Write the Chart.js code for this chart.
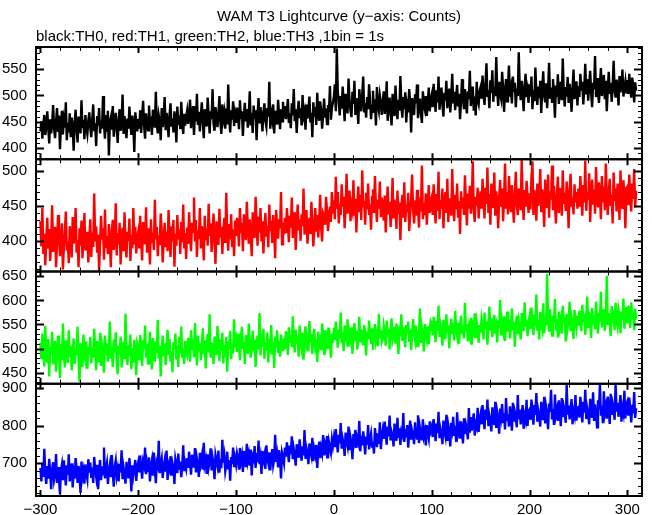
<!DOCTYPE html>
<html>
<head>
<meta charset="utf-8">
<script src="https://cdn.jsdelivr.net/npm/chart.js@4/dist/chart.umd.min.js"></script>
<style>
  body { margin: 0; background: #fff; }
  canvas { display: block; }
</style>
</head>
<body>
<canvas id="lc" width="652" height="515"></canvas>
<script>
// first bin time (s), 1 bin = 1 s
var tStart = -300;

// TH0 counts (black)
var th0 = [
432,451,418,447,463,425,439,470,441,409,455,428,446,482,437,419,450,476,433,462,398,444,471,426,453,439,487,415,448,430,466,421,458,442,395,449,473,436,411,460,445,428,491,438,454,417,463,440,427,452,
468,439,421,455,483,432,447,404,461,443,476,428,452,437,499,445,418,463,431,471,386,449,458,435,480,422,446,467,439,410,455,474,433,448,502,427,461,440,419,456,437,479,445,425,462,441,393,468,450,432,
455,437,472,429,461,490,443,418,466,452,434,481,447,460,425,473,455,439,507,446,428,462,451,415,476,440,458,497,434,467,449,421,463,485,441,456,430,470,453,411,479,444,462,436,488,450,427,465,443,459,
471,446,463,492,438,457,480,425,466,451,503,444,469,432,460,487,452,419,474,458,441,496,463,428,470,455,512,447,433,478,461,440,465,499,450,427,483,456,468,437,475,445,521,459,430,472,454,489,442,463,
448,477,462,436,491,455,470,423,464,486,451,474,439,460,508,443,467,429,481,456,472,415,463,495,447,478,458,432,469,485,452,441,476,460,526,437,466,454,483,428,471,459,445,492,462,436,474,451,488,457,
480,455,471,493,448,466,438,485,462,512,451,474,429,468,490,457,476,443,501,461,470,435,483,456,472,498,449,467,421,487,460,478,444,505,466,452,489,471,437,463,494,458,475,446,482,469,518,454,477,486,
497,521,470,589,508,486,462,499,475,517,488,451,503,479,466,532,490,472,459,507,484,528,463,495,477,446,512,489,470,501,536,468,485,458,497,474,521,492,455,480,509,467,493,443,516,482,471,500,487,463,
489,508,465,481,527,452,474,496,470,443,503,486,461,519,478,455,492,471,537,483,458,497,474,506,449,480,468,512,487,430,495,476,463,502,485,521,457,479,494,466,448,508,482,473,499,461,487,515,470,492,
501,478,522,495,469,510,487,536,473,498,515,482,460,505,491,528,476,499,513,468,494,541,485,507,472,496,520,479,503,455,489,531,497,474,512,486,466,508,493,547,480,501,517,471,498,462,526,490,483,509,
516,494,538,503,482,521,561,497,510,476,529,505,548,488,517,499,573,511,480,526,502,493,545,514,469,508,531,489,520,557,498,512,485,536,507,524,478,513,499,582,516,491,528,504,470,519,541,497,510,486,
521,498,536,474,510,489,553,505,482,517,495,528,467,511,546,500,487,523,476,509,562,494,515,488,531,502,458,519,497,540,484,512,526,491,570,507,479,516,498,535,486,522,503,469,514,549,493,508,527,481,
518,497,541,509,526,483,515,560,502,531,490,519,547,506,478,524,512,575,497,533,508,486,521,552,499,515,539,493,528,470,511,545,503,524,488,517,566,509,496,530,514,481,537,506,522,549,498,513,527,504,
529,503,541,512,496,534,520,487,525,509
];

// TH1 counts (red)
var th1 = [
428,392,447,381,410,365,402,433,389,417,371,398,451,384,406,420,362,395,437,411,378,403,425,359,390,414,442,386,399,368,421,405,376,434,396,412,447,383,401,362,418,393,429,375,407,440,386,398,413,369,
404,431,377,412,391,468,399,421,383,409,357,396,436,402,418,373,445,390,407,381,424,398,362,415,430,387,402,454,379,411,395,426,366,404,419,385,441,397,376,413,400,432,371,408,389,447,395,420,382,405,
413,389,436,401,372,427,410,395,448,383,418,404,366,431,397,412,387,459,402,420,378,408,394,439,415,369,401,426,391,413,385,444,406,377,421,399,430,363,410,393,437,402,416,381,427,398,452,389,411,374,
419,396,441,408,385,426,413,462,399,430,377,415,403,447,389,421,410,372,436,401,418,393,453,407,425,384,412,439,398,367,428,411,394,446,405,420,381,414,433,397,469,409,386,424,402,438,391,416,378,429,
407,433,419,392,447,411,426,385,438,415,401,456,422,396,431,409,378,441,418,404,463,425,393,435,412,447,399,428,382,416,440,406,421,391,452,414,429,397,437,410,375,444,420,403,431,418,470,395,426,409,
433,411,447,425,398,436,419,462,404,428,441,387,423,452,415,431,400,438,421,475,409,426,444,396,417,433,410,456,428,392,420,447,413,437,405,429,466,418,399,440,436,423,463,444,414,431,449,427,470,439,
458,431,492,446,470,425,453,437,481,449,463,418,447,496,439,458,472,428,451,443,487,436,460,412,454,478,441,466,430,501,448,457,423,469,445,482,437,452,416,463,474,440,493,451,427,459,446,485,434,462,
447,429,465,412,451,478,438,456,420,443,490,432,459,446,417,472,439,455,401,448,466,433,484,427,452,441,469,414,437,460,495,444,425,458,436,473,450,419,462,442,508,431,454,437,468,423,449,480,440,456,
462,437,481,450,425,467,443,499,431,458,446,475,418,454,470,440,489,427,461,449,436,503,452,428,466,445,482,433,457,410,471,448,462,437,494,455,422,468,446,479,439,456,514,443,427,463,450,476,432,459,
471,446,489,458,432,476,453,505,440,467,423,482,459,447,498,436,471,455,418,463,487,449,475,428,462,511,446,470,438,493,457,441,480,453,426,469,499,452,437,475,461,444,517,458,430,473,449,486,463,440,
468,445,491,514,437,473,458,429,482,450,466,503,441,474,456,420,488,462,447,495,433,471,459,508,444,479,452,425,467,492,440,476,461,436,501,453,469,443,485,457,418,474,496,449,462,438,481,455,470,446,
475,449,493,461,436,480,455,515,443,470,459,497,427,466,488,452,474,439,506,461,448,484,467,431,493,455,478,444,511,463,437,471,489,450,466,425,498,457,475,442,482,468,430,501,459,446,487,463,418,476,
478,451,495,466,442,482,460,503,448,472
];

// TH2 counts (green)
var th2 = [
512,478,531,495,463,547,486,471,520,442,503,489,535,467,498,516,452,484,527,493,439,509,476,552,488,461,517,499,470,538,483,506,455,494,521,468,502,487,545,474,431,511,496,462,529,490,477,515,458,503,
487,524,469,503,481,541,497,455,516,490,472,533,464,508,495,450,527,486,511,473,498,556,479,502,462,519,491,534,470,447,506,488,525,461,497,514,478,572,493,466,508,485,529,457,500,471,518,492,445,511,
503,476,528,491,464,517,499,548,481,510,469,494,535,488,457,522,496,473,515,490,560,479,506,442,498,527,484,511,466,502,539,487,520,473,495,451,513,498,531,477,506,462,524,490,546,481,500,468,516,493,
486,522,505,473,538,497,519,482,553,508,465,527,494,511,476,503,542,489,517,459,506,530,492,571,481,513,498,468,525,503,486,547,511,474,520,495,533,469,507,484,524,452,514,499,537,478,509,490,561,502,
517,493,531,508,476,522,545,499,513,468,528,506,489,552,515,481,503,537,494,519,462,510,527,498,574,486,518,504,541,479,512,496,533,471,520,507,549,488,514,460,525,502,538,491,516,483,529,509,495,521,
498,536,521,487,544,512,529,503,567,518,492,539,510,526,483,548,515,501,533,477,524,546,508,519,494,557,513,530,489,522,541,505,518,472,535,511,528,496,552,520,487,538,509,524,499,543,515,481,530,512,
543,518,556,527,502,539,522,575,511,534,495,548,526,517,561,504,532,520,544,489,528,553,515,537,498,526,566,513,540,521,507,549,530,486,536,519,558,525,510,542,497,531,551,516,528,505,572,522,539,514,
521,547,533,506,558,525,541,498,536,563,519,530,545,510,552,527,489,539,534,571,516,545,522,503,549,531,556,514,540,497,527,561,534,519,548,505,538,526,583,512,543,529,494,551,535,520,546,509,537,557,
552,528,566,541,513,557,537,589,524,548,535,506,560,542,519,571,533,548,501,545,562,530,553,517,578,539,526,554,510,544,568,532,547,521,595,536,551,515,543,529,564,508,547,537,573,522,555,541,512,549,
533,562,548,519,575,541,556,508,552,587,537,563,524,549,570,531,545,513,558,543,601,527,554,539,567,516,550,577,535,561,521,546,583,538,555,504,549,568,530,557,542,519,574,551,536,596,545,560,526,553,
566,541,585,553,528,571,546,612,537,560,519,576,551,540,594,532,563,548,655,557,535,582,549,527,568,554,603,538,561,523,577,545,559,531,589,550,566,515,572,544,558,597,536,563,549,520,580,555,541,569,
547,579,562,536,591,555,572,529,565,608,543,576,558,522,584,551,569,540,597,563,531,575,556,618,544,567,582,537,560,651,549,574,553,526,588,562,570,538,595,557,545,580,566,532,577,559,604,541,571,586,
552,589,568,543,596,561,577,538,583,560
];

// TH3 counts (blue)
var th3 = [
688,652,701,664,739,671,645,693,659,712,677,631,684,703,656,671,725,648,690,662,617,681,697,655,708,673,641,695,669,724,652,683,700,636,676,659,714,687,648,693,671,621,705,664,680,646,697,674,658,711,
675,702,661,689,648,717,683,664,696,631,678,709,655,692,671,742,660,686,701,645,680,697,663,722,674,638,691,707,667,684,652,699,676,735,658,689,671,646,704,683,660,714,677,625,695,668,687,709,653,690,
703,676,721,688,659,705,694,742,671,699,680,716,652,691,708,667,729,685,647,702,693,760,674,698,713,661,690,707,678,734,656,696,685,719,667,701,688,645,712,697,674,726,683,705,663,692,748,679,700,686,
714,688,731,697,670,723,705,689,741,676,712,694,664,728,701,718,683,755,696,709,672,724,690,706,740,681,715,699,658,722,707,693,734,675,711,687,763,702,720,679,696,731,684,708,654,717,698,742,690,713,
697,726,712,683,741,706,721,677,733,715,690,752,708,724,694,737,668,719,711,746,688,727,703,761,698,716,672,733,709,722,685,748,713,700,729,681,717,738,695,710,776,704,723,689,735,712,660,728,716,701,
742,718,756,729,703,747,724,772,711,738,720,694,751,733,715,764,728,707,745,721,789,712,740,726,698,753,731,719,768,706,737,723,749,688,730,758,714,741,727,775,721,748,734,773,713,756,741,728,764,746,
767,743,791,758,729,776,753,807,739,765,751,720,782,760,746,798,735,769,754,711,778,761,789,741,766,755,813,732,773,748,785,758,724,771,750,802,737,764,779,745,757,726,794,768,743,780,752,809,738,770,
789,765,811,777,750,798,772,827,761,784,774,745,806,779,760,821,768,793,749,785,776,834,757,791,769,802,742,780,814,763,787,775,751,809,782,766,828,754,795,778,761,817,773,786,748,802,779,765,812,787,
797,770,818,788,759,806,781,837,767,792,779,751,814,786,772,829,760,801,784,745,808,790,824,773,799,757,836,781,795,766,812,785,753,820,778,803,789,764,847,782,823,787,812,833,774,805,796,848,784,817,
831,804,855,822,791,843,816,870,799,827,813,785,849,821,802,864,794,836,819,779,846,825,858,807,833,790,874,815,830,798,852,823,787,861,811,837,824,796,882,817,843,804,831,855,792,826,814,869,800,838,
843,816,870,834,803,856,829,887,811,840,825,798,864,832,815,877,806,849,831,791,859,837,896,820,845,802,883,828,842,813,868,835,799,874,823,851,837,808,910,830,854,817,843,871,804,838,826,882,814,848,
850,822,877,841,809,864,835,896,818,847,832,804,872,839,821,889,813,857,838,796,868,844,910,827,853,807,892,834,850,819,878,842,805,885,829,859,845,816,911,838,861,824,851,882,811,847,833,893,820,856,
864,827,875,842,809,856,833,890,821,847
];

// panel y ranges, label step, minor tick step
var yMin = [379, 356, 427, 613];
var yMax = [592, 517, 660, 912];
var yMajor = [50, 50, 50, 100];
var yMinor = [10, 10, 10, 20];
var colors = ['#000000', '#ff0000', '#00ff00', '#0000ff'];
var series = [th0, th1, th2, th3];

var FONT = { family: '"Liberation Sans", Arial, Helvetica, sans-serif', size: 15 };

function toPoints(arr) {
	var pts = [];
	for (var i = 0; i < arr.length; i++) {
		pts.push({ x: tStart + i, y: arr[i] });
	}
	return pts;
}

function minus(v) {
	return String(v).replace('-', '\u2212');
}

// keep each curve inside its own panel
var panelClip = {
	id: 'panelClip',
	beforeDatasetDraw: function(chart, args) {
		var ys = chart.scales['y' + args.index];
		var c = chart.ctx;
		c.save();
		c.beginPath();
		c.rect(chart.chartArea.left, ys.top, chart.chartArea.right - chart.chartArea.left, ys.bottom - ys.top);
		c.clip();
	},
	afterDatasetDraw: function(chart) {
		chart.ctx.restore();
	}
};

// boxes and inward ticks, pgplot style
var frame = {
	id: 'frame',
	afterDatasetsDraw: function(chart) {
		var c = chart.ctx;
		var xs = chart.scales.x;
		var L = xs.left, R = xs.right;
		c.save();
		c.strokeStyle = '#000';
		for (var i = 0; i < 4; i++) {
			var ys = chart.scales['y' + i];
			var T = ys.top, B = ys.bottom;
			var minor = new Path2D(), major = new Path2D();
			// x ticks top and bottom
			for (var v = -300; v <= 300; v += 20) {
				var px = Math.round(xs.getPixelForValue(v));
				var p = (v % 100 === 0) ? major : minor;
				var len = (v % 100 === 0) ? 6 : 4;
				p.moveTo(px + 0.5, T); p.lineTo(px + 0.5, T + len);
				p.moveTo(px + 0.5, B); p.lineTo(px + 0.5, B - len);
			}
			// y ticks left and right
			var start = Math.ceil(yMin[i] / yMinor[i]) * yMinor[i];
			for (var w = start; w <= yMax[i]; w += yMinor[i]) {
				var py = Math.round(ys.getPixelForValue(w));
				var q = (w % yMajor[i] === 0) ? major : minor;
				var l2 = (w % yMajor[i] === 0) ? 8 : 4;
				q.moveTo(L, py + 0.5); q.lineTo(L + l2, py + 0.5);
				q.moveTo(R, py + 0.5); q.lineTo(R - l2, py + 0.5);
			}
			c.lineWidth = 1;
			c.stroke(minor);
			c.lineWidth = 2;
			c.stroke(major);
			c.strokeRect(L, T, R - L, B - T);
		}
		c.restore();
	}
};

var scales = {
	x: {
		type: 'linear',
		min: -304.5,
		max: 315,
		grid: { display: false, drawTicks: false },
		border: { display: false },
		afterFit: function(s) { s.height = 19; },
		ticks: {
			stepSize: 100,
			includeBounds: false,
			autoSkip: false,
			maxRotation: 0,
			padding: 5,
			color: '#000',
			font: FONT,
			callback: function(v) { return v % 100 === 0 ? minus(v) : ''; }
		}
	}
};

// stacked left axes are laid out last-created on top, so build them bottom-up
for (var k = 3; k >= 0; k--) {
	(function(i) {
		scales['y' + i] = {
			type: 'linear',
			position: 'left',
			stack: 'panels',
			stackWeight: 1,
			min: yMin[i],
			max: yMax[i],
			grid: { display: false, drawTicks: false },
			border: { display: false },
			afterFit: function(s) { s.width = 36; },
			ticks: {
				stepSize: yMinor[i],
				includeBounds: false,
				autoSkip: false,
				padding: 9,
				color: '#000',
				font: FONT,
				callback: function(v) { return v % yMajor[i] === 0 ? String(v) : ''; }
			}
		};
	})(k);
}

var datasets = [];
for (var i = 0; i < 4; i++) {
	datasets.push({
		label: 'TH' + i,
		data: toPoints(series[i]),
		yAxisID: 'y' + i,
		borderColor: colors[i],
		borderWidth: 2.4,
		pointRadius: 0,
		tension: 0,
		fill: false,
		clip: false
	});
}

window.onload = function() {
	var ctx = document.getElementById('lc').getContext('2d');
	new Chart(ctx, {
		type: 'line',
		data: { datasets: datasets },
		options: {
			responsive: false,
			animation: false,
			devicePixelRatio: 1,
			layout: { padding: { left: 0, right: 10, top: 0, bottom: 0 } },
			scales: scales,
			plugins: {
				legend: { display: false },
				tooltip: { enabled: false },
				title: {
					display: true,
					fullSize: false,
					text: 'WAM T3 Lightcurve (y\u2212axis: Counts)',
					color: '#000',
					font: { family: FONT.family, size: 15, weight: 'normal' },
					padding: { top: 8, bottom: 2 }
				},
				subtitle: {
					display: true,
					fullSize: false,
					align: 'start',
					text: 'black:TH0, red:TH1, green:TH2, blue:TH3 ,1bin = 1s',
					color: '#000',
					font: { family: FONT.family, size: 15 },
					padding: { top: 0, bottom: 1 }
				}
			}
		},
		plugins: [panelClip, frame]
	});
};
</script>
</body>
</html>
